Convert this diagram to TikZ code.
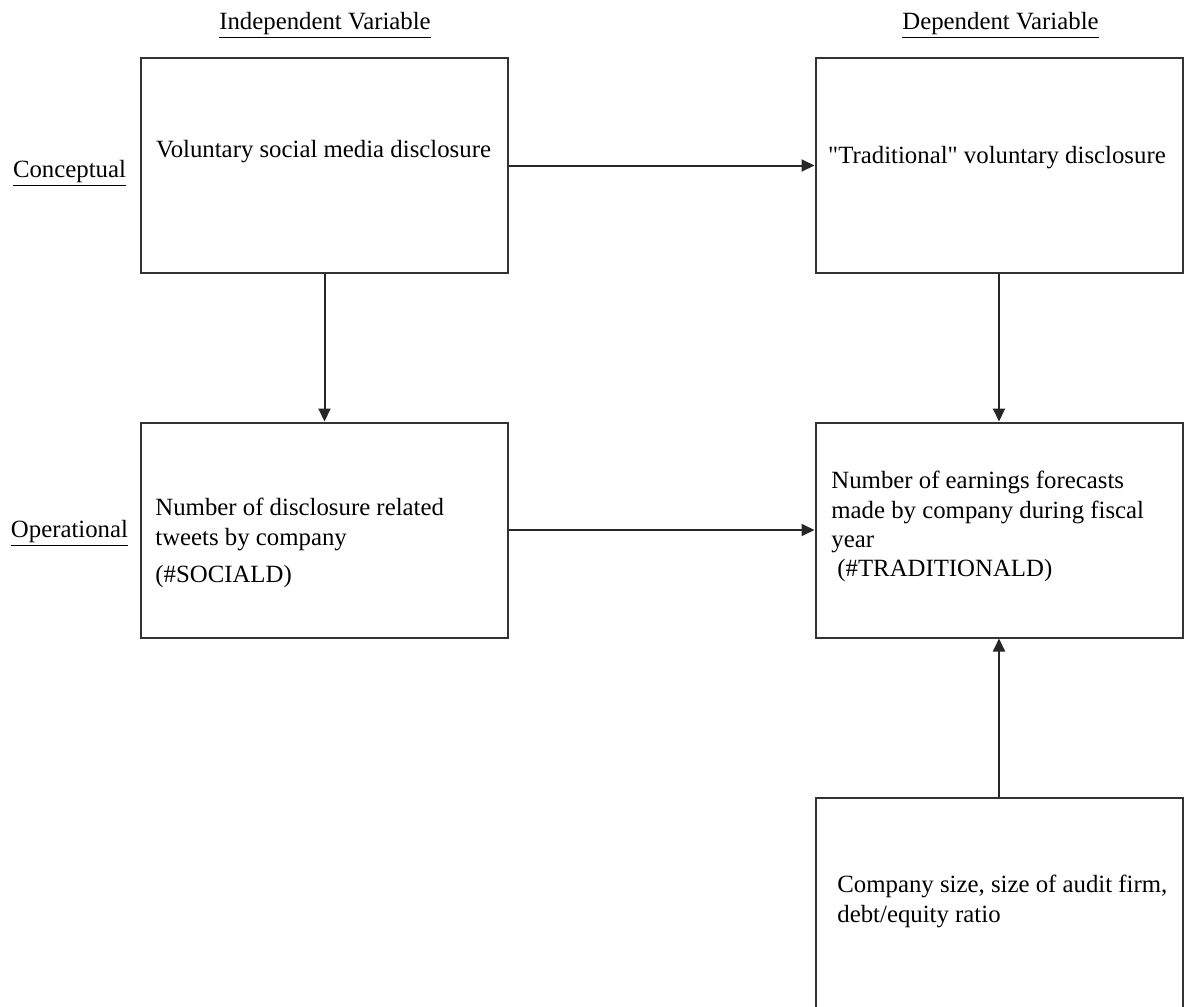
\documentclass[tikz,border=0pt]{standalone}
\usepackage{fontspec}
\setmainfont{Liberation Serif}
\usetikzlibrary{arrows.meta}

\begin{document}
\begin{tikzpicture}[
        x=0.5pt, y=-0.5pt,
        font=\fontsize{12.4pt}{14.6pt}\selectfont,
        box/.style={rectangle, draw=black!80, line width=1pt, minimum width=183.5pt, minimum height=107.5pt, inner sep=0pt},
        boxtext/.style={inner sep=0pt, align=left},
        heading/.style={inner sep=0pt, anchor=base},
        link/.style={draw=black!85, line width=1pt, -{Triangle[length=6.5pt, width=6pt]}}
    ]
        \useasboundingbox (0,0) rectangle (1184,1007);
        \clip (0,0) rectangle (1184,1007);
        \fill[white] (0,0) rectangle (1184,1007);

        % Column and row headings
        \node[heading] (indep) at (325, 29) {\underline{Independent Variable}};
        \node[heading] (dep) at (1000.5, 29) {\underline{Dependent Variable}};
        \node[heading] (concept) at (69.5, 177) {\underline{Conceptual}};
        \node[heading] (oper) at (69.5, 537) {\underline{Operational}};

        % Boxes
        \node[box] (social) at (324.5, 165.5) {};
        \node[box] (trad) at (999, 165.5) {};
        \node[box] (tweets) at (324.5, 530) {};
        \node[box] (forecasts) at (999, 530) {};
        \node[box] (controls) at (999, 905.5) {};

        % Box texts
        \node[heading] (socialtxt) at (323.5, 157) {Voluntary social media disclosure};
        \node[heading] (tradtxt) at (997, 163) {\textquotedbl Traditional\textquotedbl{} voluntary disclosure};
        \node[boxtext, anchor=north west] (tweetstxt) at (155, 498)
            {Number of disclosure related\\ tweets by company\\[4pt] (\#SOCIALD)};
        \node[boxtext, anchor=north west] (forecaststxt) at (831, 471)
            {Number of earnings forecasts\\ made by company during fiscal\\ year\\ \hspace*{3pt}(\#TRADITIONALD)};
        \node[boxtext, anchor=north west] (controlstxt) at (837, 875)
            {Company size, size of audit firm,\\ debt/equity ratio};

        % Connections
        \draw[link] (social) -- (trad);
        \draw[link] (social) -- (tweets);
        \draw[link] (tweets) -- (forecasts);
        \draw[link] (trad) -- (forecasts);
        \draw[link] (controls) -- (forecasts);

    \end{tikzpicture}
\end{document}
